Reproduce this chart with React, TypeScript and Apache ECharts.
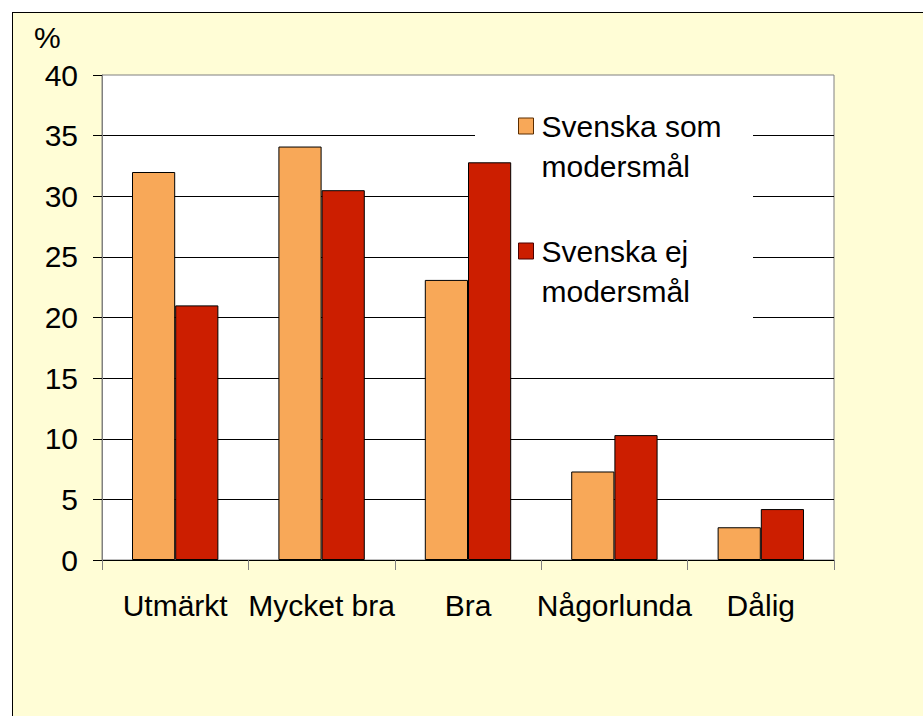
import React, { useEffect, useRef } from "react";
import * as echarts from "echarts";

const categories = ["Utmärkt", "Mycket bra", "Bra", "Någorlunda", "Dålig"];
const seriesNames = ["Svenska som modersmål", "Svenska ej modersmål"];
const legendLabels = ["Svenska som\nmodersmål", "Svenska ej\nmodersmål"];
const svenskaSom = [32.0, 34.1, 23.1, 7.3, 2.7];
const svenskaEj = [21.0, 30.5, 32.8, 10.3, 4.2];
const yTicks = { min: 0, max: 40, interval: 5 };

const FONT = "'Liberation Sans', Arial, sans-serif";

export default function App() {
  const ref = useRef<HTMLDivElement>(null);
  useEffect(() => {
    if (!ref.current) return;
    const chart = echarts.init(ref.current, null, { renderer: "svg" });
    chart.setOption({
      animation: false,
      backgroundColor: "transparent",
      textStyle: { fontFamily: FONT },
      title: {
        text: "%",
        left: 34,
        top: 22,
        padding: 0,
        textStyle: { fontSize: 30, fontWeight: "normal", color: "#000", fontFamily: FONT },
      },
      graphic: [
        {
          type: "rect",
          z: 1,
          silent: true,
          shape: { x: 475, y: 90, width: 278, height: 255 },
          style: { fill: "#fff" },
        },
      ],
      legend: {
        orient: "vertical",
        left: 518,
        top: 66,
        padding: 0,
        itemGap: 5,
        itemWidth: 15,
        itemHeight: 16,
        icon: "rect",
        formatter: (name: string) => "\n" + legendLabels[seriesNames.indexOf(name)],
        textStyle: { fontSize: 30, lineHeight: 40, color: "#000", fontFamily: FONT, padding: [0, 0, 0, 3] },
        data: [
          { name: seriesNames[0], itemStyle: { borderColor: "#5a2d00", borderWidth: 1 } },
          { name: seriesNames[1], itemStyle: { borderColor: "#4a0000", borderWidth: 1 } },
        ],
      },
      grid: {
        left: 102,
        top: 75,
        right: 89,
        bottom: 156,
        show: true,
        backgroundColor: "#fff",
        borderColor: "#808080",
        borderWidth: 1,
      },
      xAxis: {
        type: "category",
        data: categories,
        axisLine: { lineStyle: { color: "#000", width: 1 } },
        axisTick: { show: true, length: 10, lineStyle: { color: "#808080" } },
        axisLabel: { fontSize: 30, color: "#000", margin: 30, interval: 0, fontFamily: FONT },
      },
      yAxis: {
        type: "value",
        min: yTicks.min,
        max: yTicks.max,
        interval: yTicks.interval,
        axisLine: { show: true, lineStyle: { color: "#808080", width: 1 } },
        axisTick: { show: true, length: 9, lineStyle: { color: "#000" } },
        axisLabel: { fontSize: 30, color: "#000", margin: 24, fontFamily: FONT },
        splitLine: {
          show: true,
          showMinLine: false,
          showMaxLine: false,
          lineStyle: { color: "#000", width: 1 },
        },
      },
      series: [
        {
          name: seriesNames[0],
          type: "bar",
          data: svenskaSom,
          barGap: "0%",
          barCategoryGap: "41%",
          itemStyle: { color: "#F8A858", borderColor: "#000", borderWidth: 1 },
        },
        {
          name: seriesNames[1],
          type: "bar",
          data: svenskaEj,
          barGap: "0%",
          barCategoryGap: "41%",
          itemStyle: { color: "#CC1E00", borderColor: "#000", borderWidth: 1 },
        },
      ],
    });
    return () => chart.dispose();
  }, []);

  return (
    <div style={{ position: "fixed", left: 0, top: 0, width: 923, height: 716, background: "#fff", overflow: "hidden" }}>
      <div
        style={{
          position: "absolute",
          left: 12,
          top: 12,
          width: 1000,
          height: 1000,
          border: "1px solid #000",
          background: "#FFFDD6",
        }}
      />
      <div ref={ref} style={{ position: "absolute", left: 0, top: 0, width: 923, height: 716 }} />
    </div>
  );
}
